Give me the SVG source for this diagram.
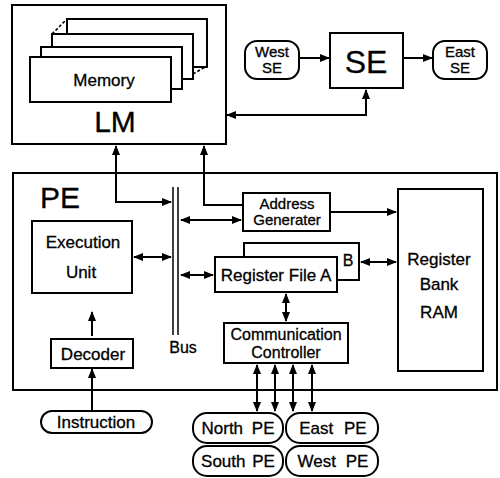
<svg xmlns="http://www.w3.org/2000/svg" width="500" height="478" viewBox="0 0 500 478">
<style>
.b{fill:#fff;stroke:#000;stroke-width:2}
.t{font-family:"Liberation Sans",Arial,sans-serif;fill:#000;text-anchor:middle;stroke:#000;stroke-width:0.3}
.c{fill:none;stroke:#000;stroke-width:2}
.d{fill:none;stroke:#000;stroke-width:1.6;stroke-dasharray:3 2}
</style>
<defs>
<marker id="ah" markerUnits="userSpaceOnUse" markerWidth="10" markerHeight="8" refX="9" refY="4" orient="auto-start-reverse">
<path d="M0,0 L10,4 L0,8 Z" fill="#000"/>
</marker>
</defs>
<rect width="500" height="478" fill="#fff"/>
<g id="LM">
<rect class="b" x="12" y="5" width="214" height="139"/>
<rect class="b" x="67" y="19" width="140" height="48"/>
<line class="d" x1="52" y1="34" x2="67" y2="19"/>
<line class="d" x1="193" y1="74" x2="207" y2="66"/>
<rect class="b" x="52" y="34" width="141" height="45"/>
<rect class="b" x="41" y="47" width="141" height="42"/>
<rect class="b" x="30" y="57" width="141" height="45"/>
<text class="t" x="104" y="86" font-size="17">Memory</text>
<text class="t" x="115" y="132" font-size="30">LM</text>
</g>
<g id="WestSE">
<rect class="b" x="245" y="41" width="54" height="38" rx="12"/>
<text class="t" x="272" y="57" font-size="15">West</text>
<text class="t" x="272" y="73" font-size="15">SE</text>
</g>
<g id="SE">
<rect class="b" x="330" y="33" width="73" height="55"/>
<text class="t" x="366" y="73" font-size="32">SE</text>
</g>
<g id="EastSE">
<rect class="b" x="433" y="41" width="54" height="38" rx="12"/>
<text class="t" x="460" y="57" font-size="15">East</text>
<text class="t" x="460" y="73" font-size="15">SE</text>
</g>
<g id="PE">
<rect class="b" x="13" y="173" width="484" height="217"/>
<text class="t" x="60" y="208" font-size="30">PE</text>
</g>
<g id="Bus">
<line x1="173" y1="187" x2="173" y2="335" stroke="#000" stroke-width="1.5"/>
<line x1="178" y1="187" x2="178" y2="335" stroke="#000" stroke-width="1.5"/>
<text class="t" x="183" y="353" font-size="16">Bus</text>
</g>
<g id="ExecutionUnit">
<rect class="b" x="32" y="221" width="100" height="72"/>
<text class="t" x="83" y="248" font-size="17">Execution</text>
<text class="t" x="81" y="278" font-size="17">Unit</text>
</g>
<g id="Decoder">
<rect class="b" x="51" y="339" width="82" height="29"/>
<text class="t" x="93" y="360" font-size="17">Decoder</text>
</g>
<g id="AddressGenerator">
<rect class="b" x="243" y="193" width="87" height="38"/>
<text class="t" x="287" y="209" font-size="15">Address</text>
<text class="t" x="287" y="225" font-size="15">Generater</text>
</g>
<g id="RegisterFile">
<rect class="b" x="244" y="243" width="115" height="37"/>
<text class="t" x="348" y="266" font-size="16">B</text>
<rect class="b" x="215" y="257" width="122" height="35"/>
<text class="t" x="276" y="281" font-size="17">Register File A</text>
</g>
<g id="RegisterBankRAM">
<rect class="b" x="398" y="189" width="85" height="182"/>
<text class="t" x="439" y="265" font-size="17">Register</text>
<text class="t" x="439" y="290" font-size="17">Bank</text>
<text class="t" x="439" y="318" font-size="17">RAM</text>
</g>
<g id="CommunicationController">
<rect class="b" x="224" y="323" width="124" height="40"/>
<text class="t" x="286" y="340" font-size="16">Communication</text>
<text class="t" x="286" y="358" font-size="16">Controller</text>
</g>
<g id="Instruction">
<rect class="b" x="41" y="411" width="111" height="22" rx="11"/>
<text class="t" x="96" y="428" font-size="17">Instruction</text>
</g>
<g id="NorthPE">
<rect class="b" x="193" y="413" width="90" height="30" rx="14"/>
<text class="t" x="238" y="434" font-size="17" word-spacing="4">North PE</text>
</g>
<g id="EastPE">
<rect class="b" x="286" y="413" width="92" height="30" rx="14"/>
<text class="t" x="333" y="434" font-size="17" word-spacing="6">East PE</text>
</g>
<g id="SouthPE">
<rect class="b" x="193" y="446" width="90" height="30" rx="14"/>
<text class="t" x="238" y="467" font-size="17" word-spacing="2">South PE</text>
</g>
<g id="WestPE">
<rect class="b" x="286" y="446" width="92" height="30" rx="14"/>
<text class="t" x="333" y="467" font-size="17" word-spacing="5">West PE</text>
</g>
<g id="connectors">
<line class="c" x1="299" y1="58" x2="329" y2="58" marker-end="url(#ah)"/>
<line class="c" x1="403" y1="58" x2="432" y2="58" marker-end="url(#ah)"/>
<polyline class="c" points="366,90 366,115 227,115" marker-start="url(#ah)" marker-end="url(#ah)"/>
<polyline class="c" points="116,146 116,202 171,202" marker-start="url(#ah)" marker-end="url(#ah)"/>
<polyline class="c" points="204,146 204,205 243,205" marker-start="url(#ah)"/>
<line class="c" x1="134" y1="257" x2="171" y2="257" marker-start="url(#ah)" marker-end="url(#ah)"/>
<line class="c" x1="181" y1="220" x2="241" y2="220" marker-start="url(#ah)" marker-end="url(#ah)"/>
<line class="c" x1="181" y1="275" x2="213" y2="275" marker-start="url(#ah)" marker-end="url(#ah)"/>
<line class="c" x1="330" y1="212" x2="396" y2="212" marker-end="url(#ah)"/>
<line class="c" x1="361" y1="262" x2="396" y2="262" marker-start="url(#ah)" marker-end="url(#ah)"/>
<line class="c" x1="286" y1="294" x2="286" y2="321" marker-start="url(#ah)" marker-end="url(#ah)"/>
<line class="c" x1="92" y1="336" x2="92" y2="312" marker-end="url(#ah)"/>
<line class="c" x1="92" y1="411" x2="92" y2="369" marker-end="url(#ah)"/>
<line class="c" x1="257" y1="365" x2="257" y2="411" marker-start="url(#ah)" marker-end="url(#ah)"/>
<line class="c" x1="275" y1="365" x2="275" y2="411" marker-start="url(#ah)" marker-end="url(#ah)"/>
<line class="c" x1="293" y1="365" x2="293" y2="411" marker-start="url(#ah)" marker-end="url(#ah)"/>
<line class="c" x1="312" y1="365" x2="312" y2="411" marker-start="url(#ah)" marker-end="url(#ah)"/>
</g>
</svg>
